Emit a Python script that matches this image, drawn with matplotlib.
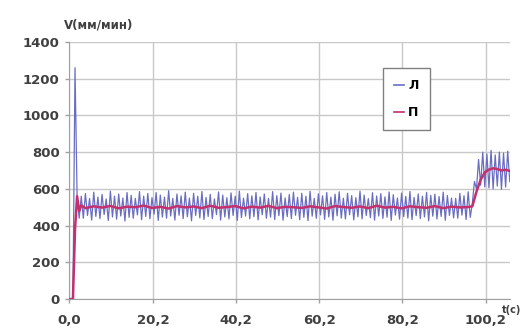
import numpy as np
from matplotlib import pyplot as plt

# time axis (s), blue signal sampled every 0.5 s
t_blue = np.arange(0, 106.01, 0.5)

# "Л" - noisy speed signal
blue_start = [0, 0, 0, 1260, 560, 440]
blue_mid = [
    560, 440, 575, 455, 548, 430, 582, 450, 555, 438,
    570, 460, 545, 428, 588, 447, 560, 435, 572, 452,
    550, 425, 580, 445, 565, 440, 548, 458, 585, 432,
    560, 450, 575, 437, 552, 462, 580, 428, 566, 446,
    555, 440, 590, 452, 548, 430, 572, 456, 562, 438,
    582, 448, 550, 426, 576, 455, 560, 442, 586, 433,
    553, 450, 570, 438, 545, 460, 583, 430, 566, 447,
    552, 436, 578, 455, 560, 428, 588, 444, 549, 452,
    574, 437, 562, 448, 580, 431, 556, 459, 572, 440,
    548, 446, 585, 433, 563, 454, 577, 429, 551, 449,
    569, 438, 582, 456, 554, 432, 576, 445, 560, 427,
    587, 451, 548, 440, 573, 458, 562, 434, 580, 447,
    555, 429, 571, 453, 584, 441, 549, 436, 576, 459,
    563, 431, 552, 448, 588, 437, 566, 455, 547, 443,
    579, 430, 561, 452, 574, 439, 556, 446, 583, 428,
    568, 457, 550, 435, 577, 449, 559, 441, 586, 432,
    553, 454, 572, 438, 560, 447, 581, 426, 565, 451,
    571, 436, 558, 450, 582, 429, 564, 455, 550, 442,
    548, 440, 575, 457, 562, 433, 584, 445,
]
blue_end = [
    520, 640, 600, 760, 620, 800, 610, 790, 605, 810,
    600, 785, 615, 800, 598, 795, 610, 805, 640,
]
blue_vals = blue_start + blue_mid + blue_end

# "П" - smoothed signal
t_red = [0, 1.0, 1.5, 2.0, 2.5, 3.0, 4, 6, 8, 10, 12, 14, 16, 18, 20,
         22, 24, 26, 28, 30, 32, 34, 36, 38, 40, 42, 44, 46, 48, 50,
         52, 54, 56, 58, 60, 62, 64, 66, 68, 70, 72, 74, 76, 78, 80,
         82, 84, 86, 88, 90, 92, 94, 96, 97, 98, 99, 100, 101, 102,
         103, 104, 105, 106]
red_vals = [0, 0, 380, 560, 480, 510, 495, 505, 498, 507, 494, 503, 500, 509,
            496, 502, 493, 506, 499, 504, 495, 508, 497, 501, 506, 494, 503,
            498, 507, 495, 502, 500, 496, 505, 499, 493, 506, 501, 497, 504,
            495, 508, 498, 502, 494, 505, 500, 497, 506, 495, 503, 499, 501,
            505, 585, 650, 690, 705, 712, 708, 700, 704, 698]

x_ticks = [0, 20.2, 40.2, 60.2, 80.2, 100.2]
x_labels = ['0,0', '20,2', '40,2', '60,2', '80,2', '100,2']
y_ticks = [0, 200, 400, 600, 800, 1000, 1200, 1400]

fig = plt.figure(figsize=(5.25, 3.33), dpi=100)
ax = fig.add_axes([0.131, 0.102, 0.84, 0.772])

ax.plot(t_blue, blue_vals, color='#6a6ec2', lw=0.9, label='Л', zorder=3)
ax.plot(t_red, red_vals, color='#c2306e', lw=1.8, label='П', zorder=4)

ax.set_xlim(0, 106)
ax.set_ylim(0, 1400)
ax.set_xticks(x_ticks)
ax.set_xticklabels(x_labels)
ax.set_yticks(y_ticks)

ax.grid(True, color='#c8c8c8', lw=1)
ax.set_axisbelow(True)
for s in ['top', 'right']:
    ax.spines[s].set_visible(False)
for s in ['left', 'bottom']:
    ax.spines[s].set_color('#a0a0a0')
ax.tick_params(colors='#a0a0a0', length=3, width=1, labelcolor='#404040',
               labelsize=9.5)
ax.tick_params(axis='x', pad=8)
for lab in ax.get_xticklabels() + ax.get_yticklabels():
    lab.set_fontweight('bold')

fig.text(0.122, 0.925, 'V(мм/мин)', fontsize=8.5, fontweight='bold',
         color='#404040', ha='left', va='center')
fig.text(0.993, 0.068, 't(c)', fontsize=7, fontweight='bold',
         color='#404040', ha='right', va='center')

leg = ax.legend(loc='upper left', bbox_to_anchor=(0.718, 0.814),
                bbox_transform=fig.transFigure, handlelength=0.8,
                handletextpad=0.3, labelspacing=1.1, borderpad=0.9,
                fancybox=False, edgecolor='#808080', framealpha=1,
                prop={'size': 9, 'weight': 'bold'})
leg.get_frame().set_linewidth(1)
for line in leg.get_lines():
    line.set_linewidth(1.2)

plt.savefig('out.png', dpi=100)
